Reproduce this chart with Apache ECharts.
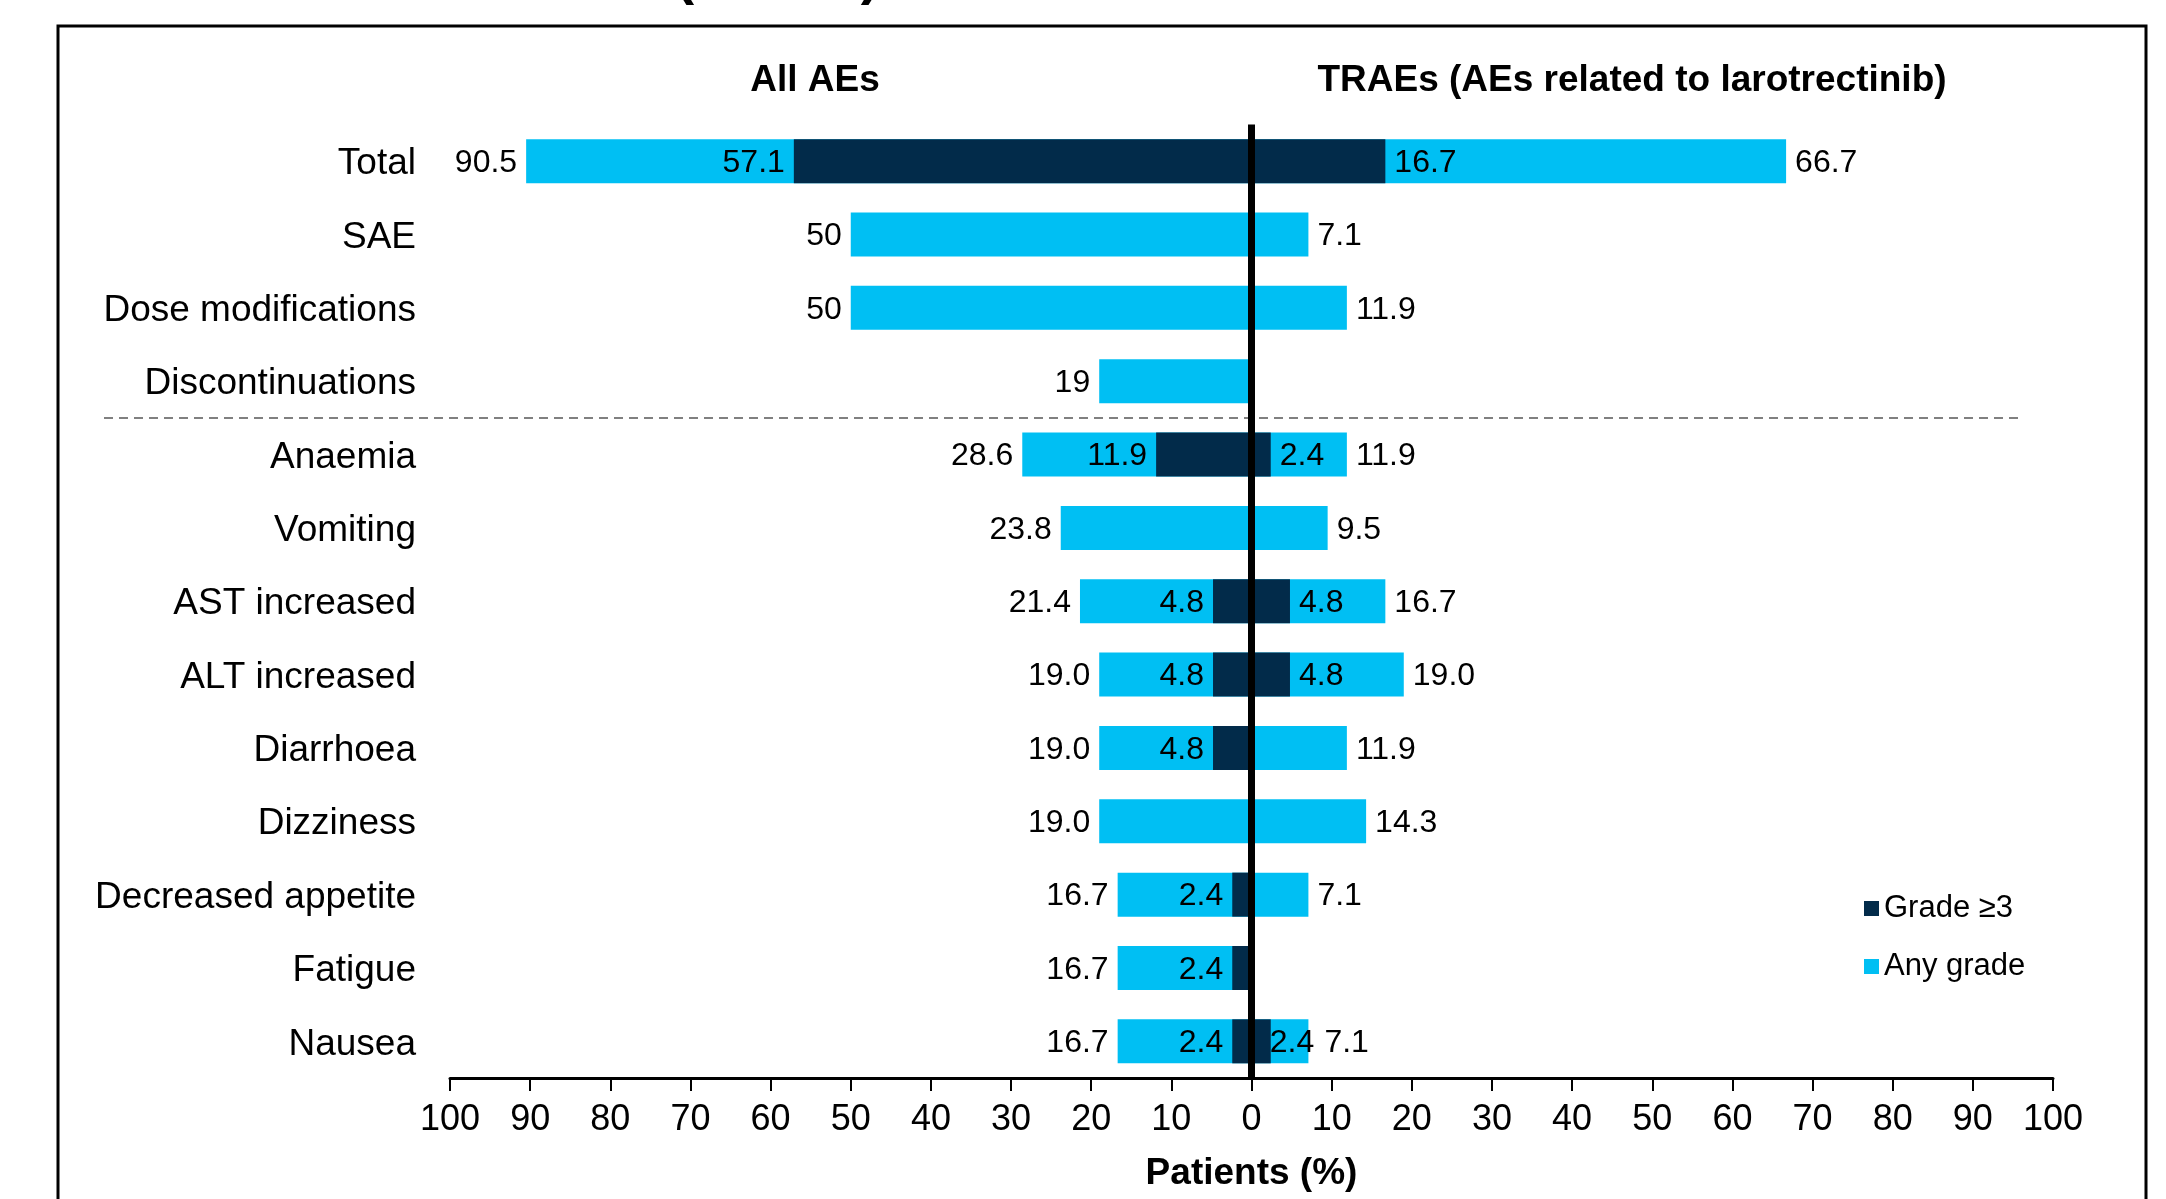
<!DOCTYPE html>
<html>
<head>
<meta charset="utf-8">
<title>Adverse events</title>
<script src="https://cdn.jsdelivr.net/npm/echarts@6/dist/echarts.min.js"></script>
<style>
  html, body { margin: 0; padding: 0; background: #fff; }
  #chart { width: 2166px; height: 1199px; }
</style>
</head>
<body>
<div id="chart"></div>
<script>
// Rows of the butterfly chart, top to bottom
const categories = ['Total', 'SAE', 'Dose modifications', 'Discontinuations', 'Anaemia', 'Vomiting',
  'AST increased', 'ALT increased', 'Diarrhoea', 'Dizziness', 'Decreased appetite', 'Fatigue', 'Nausea'];

// All AEs (drawn to the left of zero), % of patients
const allAnyGrade = ['90.5', '50', '50', '19', '28.6', '23.8', '21.4', '19.0', '19.0', '19.0', '16.7', '16.7', '16.7'];
const allGrade3   = ['57.1', null, null, null, '11.9', null, '4.8', '4.8', '4.8', null, '2.4', '2.4', '2.4'];

// Treatment-related AEs (drawn to the right of zero), % of patients
const traeAnyGrade = ['66.7', '7.1', '11.9', null, '11.9', '9.5', '16.7', '19.0', '11.9', '14.3', '7.1', null, '7.1'];
const traeGrade3   = ['16.7', null, null, null, '2.4', null, '4.8', '4.8', null, null, null, null, '2.4'];

// Axis ticks: 100 ... 0 ... 100
const axisMin = -100;
const axisMax = 100;
const tickStep = 10;

const FONT = "'Liberation Sans', Arial, Helvetica, sans-serif";
const DARK = '#022B4A';
const LIGHT = '#00BFF3';

// Small horizontal nudges so that crowded labels on a short bar do not collide
const labelNudge = {
  traeGrade3: { Nausea: -10 },
  traeAnyGrade: { Nausea: 7 }
};

function toData(arr, sign, nudgeKey) {
  const nudges = labelNudge[nudgeKey] || {};
  return arr.map((v, i) => {
    if (v === null) return '-';
    const item = { value: sign * parseFloat(v) };
    const dx = nudges[categories[i]];
    if (dx) item.label = { offset: [dx, 2] };
    return item;
  });
}

function barSeries(name, arr, sign, color, pos, nudgeKey, extra) {
  return Object.assign({
    name: name,
    type: 'bar',
    data: toData(arr, sign, nudgeKey),
    barWidth: '60%',
    barGap: '-100%',
    itemStyle: { color: color },
    label: {
      show: true,
      position: pos,
      distance: 9,
      offset: [0, 2],
      color: '#000',
      fontFamily: FONT,
      fontSize: 32,
      formatter: p => (arr[p.dataIndex] === null ? '' : arr[p.dataIndex])
    },
    emphasis: { disabled: true },
    animation: false
  }, extra || {});
}

const chart = echarts.init(document.getElementById('chart'), null, { renderer: 'canvas' });

const option = {
  animation: false,
  textStyle: { fontFamily: FONT, color: '#000' },
  grid: { left: 450, right: 113, top: 124.5, bottom: 121, containLabel: false },
  legend: {
    data: ['Grade ≥3', 'Any grade'],
    orient: 'vertical',
    left: 1859,
    top: 888,
    itemWidth: 15,
    itemHeight: 15,
    itemGap: 27,
    icon: 'rect',
    selectedMode: false,
    textStyle: { fontFamily: FONT, fontSize: 31, color: '#000', lineHeight: 31 }
  },
  xAxis: {
    type: 'value',
    min: axisMin,
    max: axisMax,
    interval: tickStep,
    name: 'Patients (%)',
    nameLocation: 'middle',
    nameGap: 77,
    nameTextStyle: { fontFamily: FONT, fontSize: 37, fontWeight: 'bold', color: '#000' },
    axisLine: { show: true, onZero: false, lineStyle: { color: '#000', width: 3 } },
    axisTick: { show: true, length: 13, lineStyle: { color: '#000', width: 2 } },
    axisLabel: {
      margin: 24,
      fontFamily: FONT,
      fontSize: 36,
      color: '#000',
      formatter: v => String(Math.abs(v))
    },
    splitLine: { show: false }
  },
  yAxis: {
    type: 'category',
    data: categories,
    inverse: true,
    axisLine: { show: false },
    axisTick: { show: false },
    axisLabel: {
      margin: 34,
      formatter: v => '{c|' + v + '}',
      rich: {
        c: { fontFamily: FONT, fontSize: 37, color: '#000', padding: [6, 0, 0, 0] }
      }
    },
    splitLine: { show: false }
  },
  series: [
    barSeries('Any grade', allAnyGrade, -1, LIGHT, 'left', 'allAnyGrade'),
    barSeries('Grade ≥3', allGrade3, -1, DARK, 'left', 'allGrade3'),
    barSeries('Any grade', traeAnyGrade, 1, LIGHT, 'right', 'traeAnyGrade'),
    barSeries('Grade ≥3', traeGrade3, 1, DARK, 'right', 'traeGrade3', {
      markLine: {
        silent: true,
        symbol: 'none',
        label: { show: false },
        lineStyle: { color: '#000', width: 7, type: 'solid' },
        data: [{ xAxis: 0 }]
      }
    })
  ]
};

chart.setOption(option);

// Separator between the summary rows and the individual events
const yA = chart.convertToPixel({ yAxisIndex: 0 }, 'Discontinuations');
const yB = chart.convertToPixel({ yAxisIndex: 0 }, 'Anaemia');
const sepY = Math.round((yA + yB) / 2);

chart.setOption({
  graphic: [
    {
      type: 'rect',
      silent: true,
      shape: { x: 58, y: 26, width: 2088, height: 1300 },
      style: { fill: 'none', stroke: '#000', lineWidth: 3 }
    },
    {
      type: 'text',
      silent: true,
      style: {
        x: 246, y: 6,
        text: 'Adverse events (N = 42)',
        font: 'bold 56px ' + FONT,
        fill: '#000',
        textAlign: 'left', align: 'left',
        textVerticalAlign: 'bottom', verticalAlign: 'bottom'
      }
    },
    {
      type: 'text',
      silent: true,
      style: {
        x: 815, y: 81,
        text: 'All AEs',
        font: 'bold 37px ' + FONT,
        fill: '#000',
        textAlign: 'center', align: 'center',
        textVerticalAlign: 'middle', verticalAlign: 'middle'
      }
    },
    {
      type: 'text',
      silent: true,
      style: {
        x: 1632, y: 81,
        text: 'TRAEs (AEs related to larotrectinib)',
        font: 'bold 37px ' + FONT,
        fill: '#000',
        textAlign: 'center', align: 'center',
        textVerticalAlign: 'middle', verticalAlign: 'middle'
      }
    },
    {
      type: 'line',
      silent: true,
      shape: { x1: 104, y1: sepY, x2: 2021, y2: sepY },
      style: { stroke: '#808080', lineWidth: 2, lineDash: [9, 6] }
    }
  ]
});
</script>
</body>
</html>
